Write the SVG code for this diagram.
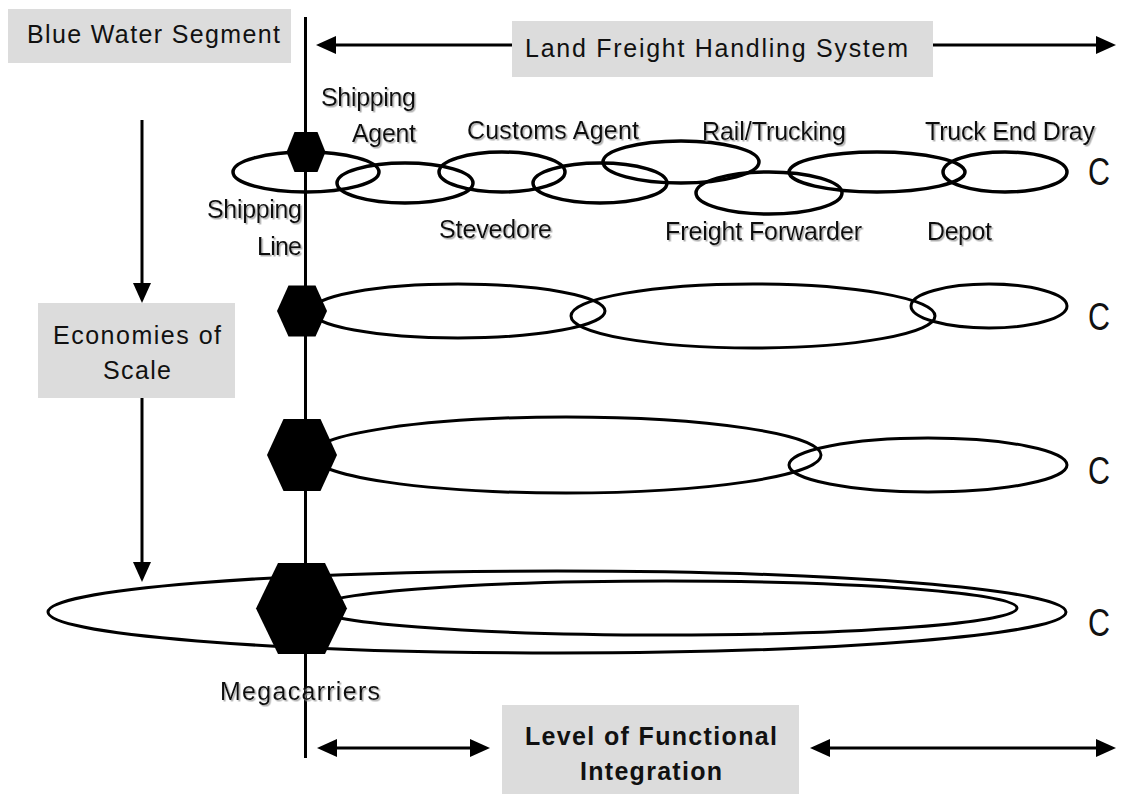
<svg xmlns="http://www.w3.org/2000/svg" width="1121" height="794" viewBox="0 0 1121 794">
<style>
text{font-family:"Liberation Sans",Arial,sans-serif;font-size:25px;fill:#111}
.box{fill:#dcdcdc}
.ell{fill:none;stroke:#000;stroke-width:3}
.e1{stroke-width:3.5}
.hex{fill:#000}
.ln{stroke:#000;stroke-width:3;fill:none}
.sh{filter:url(#ds)}
.c{font-size:39px}
.b{font-weight:bold}
</style>
<defs>
<marker id="ah" markerUnits="userSpaceOnUse" viewBox="0 0 20 18" refX="10" refY="9" markerWidth="20" markerHeight="18" orient="auto-start-reverse">
<path d="M0,0 L20,9 L0,18 z" fill="#000"/>
</marker>
<filter id="ds" x="-5%" y="-20%" width="115%" height="150%">
<feDropShadow dx="1.5" dy="1.5" stdDeviation="0.6" flood-color="#9a9a9a" flood-opacity="0.8"/>
</filter>
</defs>
<rect width="1121" height="794" fill="#fff"/>

<g id="connectors">
<line class="ln" x1="305.5" y1="17" x2="305.5" y2="758"/>
<line class="ln" x1="326" y1="45" x2="512" y2="45" marker-start="url(#ah)"/>
<line class="ln" x1="933" y1="45" x2="1106" y2="45" marker-end="url(#ah)"/>
<line class="ln" x1="142" y1="120" x2="142" y2="293" marker-end="url(#ah)"/>
<line class="ln" x1="142" y1="398" x2="142" y2="572" marker-end="url(#ah)"/>
<line class="ln" x1="327" y1="748" x2="480" y2="748" marker-start="url(#ah)" marker-end="url(#ah)"/>
<line class="ln" x1="820" y1="748" x2="1106" y2="748" marker-start="url(#ah)" marker-end="url(#ah)"/>
</g>

<g id="blue-water-segment">
<rect class="box" x="8" y="9" width="283" height="54"/>
<text x="27" y="43" textLength="253">Blue Water Segment</text>
</g>
<g id="land-freight">
<rect class="box" x="512" y="21" width="421" height="56"/>
<text x="525" y="57" textLength="383">Land Freight Handling System</text>
</g>
<g id="economies-of-scale">
<rect class="box" x="38" y="303" width="197" height="95"/>
<text x="53" y="344" textLength="168">Economies of</text>
<text x="103" y="379" textLength="68">Scale</text>
</g>
<g id="level-functional-integration">
<rect class="box" x="502" y="705" width="297" height="89"/>
<text class="b" x="525" y="745" textLength="252">Level of Functional</text>
<text class="b" x="580" y="780" textLength="142">Integration</text>
</g>

<g id="row1">
<ellipse class="ell e1" cx="306" cy="172" rx="73" ry="20"/>
<ellipse class="ell e1" cx="405" cy="183" rx="68" ry="20"/>
<ellipse class="ell e1" cx="502" cy="172" rx="63" ry="20"/>
<ellipse class="ell e1" cx="600" cy="183" rx="67" ry="20"/>
<ellipse class="ell e1" cx="681" cy="162" rx="78" ry="21"/>
<ellipse class="ell e1" cx="769" cy="193" rx="73" ry="21"/>
<ellipse class="ell e1" cx="877" cy="172" rx="88" ry="20"/>
<ellipse class="ell e1" cx="1005" cy="172" rx="62" ry="20"/>
<polygon class="hex" points="294.5,132 317.5,132 325.5,152 317.5,172 294.5,172 286.5,152"/>
<g class="sh">
<text x="321" y="106" textLength="95">Shipping</text>
<text x="352" y="142" textLength="64">Agent</text>
<text x="467" y="139" textLength="172">Customs Agent</text>
<text x="702" y="140" textLength="144">Rail/Trucking</text>
<text x="925" y="140" textLength="170">Truck End Dray</text>
<text x="207" y="218" textLength="95">Shipping</text>
<text x="257" y="255" textLength="45">Line</text>
<text x="439" y="238" textLength="113">Stevedore</text>
<text x="665" y="240" textLength="197">Freight Forwarder</text>
<text x="927" y="240" textLength="65">Depot</text>
</g>
<text class="c" x="1088" y="185" textLength="22" lengthAdjust="spacingAndGlyphs">C</text>
</g>

<g id="row2">
<ellipse class="ell" cx="458" cy="311" rx="147" ry="27"/>
<ellipse class="ell" cx="753" cy="316" rx="182" ry="32"/>
<ellipse class="ell" cx="989" cy="306" rx="78" ry="22"/>
<polygon class="hex" points="288.5,285.5 315.5,285.5 327,311 315.5,336.5 288.5,336.5 277,311"/>
<text class="c" x="1088" y="330" textLength="22" lengthAdjust="spacingAndGlyphs">C</text>
</g>

<g id="row3">
<ellipse class="ell" cx="566" cy="455" rx="255" ry="38"/>
<ellipse class="ell" cx="928" cy="465" rx="139" ry="27"/>
<polygon class="hex" points="283.5,419 320.5,419 337,455 320.5,491 283.5,491 267,455"/>
<text class="c" x="1088" y="484" textLength="22" lengthAdjust="spacingAndGlyphs">C</text>
</g>

<g id="row4">
<ellipse class="ell" cx="557" cy="612" rx="509" ry="41"/>
<ellipse class="ell" cx="666" cy="608" rx="351" ry="27"/>
<polygon class="hex" points="278,563 325,563 347,608.5 325,654 278,654 256,608.5"/>
<text class="c" x="1088" y="636" textLength="22" lengthAdjust="spacingAndGlyphs">C</text>
<text class="sh" x="220" y="700" textLength="160">Megacarriers</text>
</g>
</svg>
